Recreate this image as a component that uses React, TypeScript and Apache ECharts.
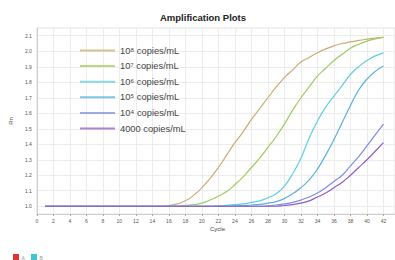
import React, { useEffect, useRef } from "react";
import * as echarts from "echarts";

const cycles = [1,2,3,4,5,6,7,8,9,10,11,12,13,14,15,16,17,18,19,20,21,22,23,24,25,26,27,28,29,30,31,32,33,34,35,36,37,38,39,40,41,42];

const seriesNames = ["10⁸ copies/mL", "10⁷ copies/mL", "10⁶ copies/mL", "10⁵ copies/mL", "10⁴ copies/mL", "4000 copies/mL"];
const seriesColors = ["#c9ac72", "#9fcc5e", "#5fcfdc", "#5aaee0", "#7f8ce0", "#8d5cc8"];

const rn1e8 = [1.0,1.0,1.0,1.0,1.0,1.0,1.0,1.0,1.0,1.0,1.0,1.0,1.0,1.0,1.0,1.005,1.015,1.035,1.07,1.12,1.18,1.25,1.33,1.41,1.48,1.56,1.63,1.70,1.77,1.83,1.88,1.93,1.96,1.99,2.015,2.035,2.05,2.06,2.07,2.078,2.085,2.09];
const rn1e7 = [1.0,1.0,1.0,1.0,1.0,1.0,1.0,1.0,1.0,1.0,1.0,1.0,1.0,1.0,1.0,1.0,1.0,1.005,1.01,1.02,1.04,1.065,1.095,1.14,1.19,1.25,1.31,1.38,1.45,1.53,1.62,1.70,1.77,1.84,1.89,1.94,1.98,2.02,2.045,2.065,2.08,2.09];
const rn1e6 = [1.0,1.0,1.0,1.0,1.0,1.0,1.0,1.0,1.0,1.0,1.0,1.0,1.0,1.0,1.0,1.0,1.0,1.0,1.0,1.0,1.0,1.003,1.006,1.01,1.015,1.025,1.035,1.055,1.08,1.13,1.21,1.31,1.44,1.55,1.64,1.71,1.78,1.85,1.90,1.94,1.97,1.99];
const rn1e5 = [1.0,1.0,1.0,1.0,1.0,1.0,1.0,1.0,1.0,1.0,1.0,1.0,1.0,1.0,1.0,1.0,1.0,1.0,1.0,1.0,1.0,1.0,1.0,1.002,1.005,1.008,1.012,1.02,1.03,1.05,1.08,1.12,1.17,1.24,1.33,1.43,1.54,1.65,1.75,1.82,1.87,1.905];
const rn1e4 = [1.0,1.0,1.0,1.0,1.0,1.0,1.0,1.0,1.0,1.0,1.0,1.0,1.0,1.0,1.0,1.0,1.0,1.0,1.0,1.0,1.0,1.0,1.0,1.0,1.0,1.0,1.0,1.003,1.008,1.015,1.025,1.04,1.06,1.085,1.12,1.16,1.20,1.26,1.32,1.39,1.46,1.53];
const rn4000 = [1.0,1.0,1.0,1.0,1.0,1.0,1.0,1.0,1.0,1.0,1.0,1.0,1.0,1.0,1.0,1.0,1.0,1.0,1.0,1.0,1.0,1.0,1.0,1.0,1.0,1.0,1.0,1.0,1.0,1.005,1.01,1.02,1.035,1.06,1.085,1.12,1.155,1.20,1.25,1.30,1.355,1.41];

const seriesValues = [rn1e8, rn1e7, rn1e6, rn1e5, rn1e4, rn4000];

const bottomKeys = ["A", "B"];
const bottomColors = ["#e03434", "#3fc6d0"];

export default function App() {
  const ref = useRef<HTMLDivElement>(null);
  useEffect(() => {
    if (!ref.current) return;
    const chart = echarts.init(ref.current, null, { renderer: "svg" });
    const font = "Liberation Sans, Arial, sans-serif";
    chart.setOption({
      animation: false,
      backgroundColor: "#ffffff",
      textStyle: { fontFamily: font },
      grid: { left: 33, right: 0, top: 28, height: 186, show: true, borderColor: "#e2e2e2", borderWidth: 1 },
      legend: {
        orient: "vertical",
        left: 75,
        top: 41,
        padding: 5,
        icon: "rect",
        itemWidth: 35,
        itemHeight: 2,
        itemGap: 6.6,
        data: seriesNames,
        itemStyle: { opacity: 0.75 },
        textStyle: { fontSize: 9.3, color: "#444", fontFamily: font },
      },
      xAxis: {
        type: "value",
        min: 0,
        max: 43.4,
        interval: 2,
        axisLine: { show: true, lineStyle: { color: "#cfcfcf" } },
        axisTick: { show: true, length: 2, lineStyle: { color: "#aaa" } },
        axisLabel: {
          fontSize: 5,
          color: "#555",
          margin: 4,
          showMaxLabel: false,
          formatter: (v: number) => (Math.abs(v - Math.round(v)) < 1e-6 && Math.round(v) % 2 === 0 ? String(Math.round(v)) : ""),
        },
        splitLine: { show: true, lineStyle: { color: "#ececec", width: 1 } },
      },
      yAxis: {
        type: "value",
        min: 0.95,
        max: 2.15,
        interval: 0.05,
        name: "Rn",
        nameLocation: "middle",
        nameGap: 19,
        nameTextStyle: { fontSize: 6, color: "#555" },
        axisLine: { show: true, lineStyle: { color: "#cfcfcf" } },
        axisTick: { show: false },
        axisLabel: {
          fontSize: 5,
          color: "#555",
          margin: 5,
          formatter: (v: number) => {
            const k = Math.round(v * 100);
            return k % 10 === 0 && k >= 100 && k <= 210 ? (k / 100).toFixed(1) : "";
          },
        },
        splitLine: { show: true, lineStyle: { color: ["rgba(0,0,0,0)", "#ececec"], width: 1 } },
      },
      series: seriesNames.map((name, i) => ({
        name,
        type: "line",
        showSymbol: false,
        symbol: "none",
        smooth: true,
        data: cycles.map((c, j) => [c, seriesValues[i][j]]),
        lineStyle: { color: seriesColors[i], width: 1.2 },
        itemStyle: { color: seriesColors[i] },
      })),
      graphic: [
        {
          type: "text",
          left: 160,
          top: 12,
          style: { text: "Amplification Plots", font: "bold 9.5px " + font, fill: "#222" },
        },
        {
          type: "text",
          left: 210,
          top: 226,
          style: { text: "Cycle", font: "6px " + font, fill: "#444" },
        },
        ...bottomKeys.flatMap((k, i) => [
          { type: "rect", shape: { x: 13 + i * 18, y: 254, width: 6, height: 6 }, style: { fill: bottomColors[i] } },
          { type: "text", left: 21.5 + i * 18, top: 255, style: { text: k, font: "5px " + font, fill: "#999" } },
        ]),
      ],
    });
    return () => chart.dispose();
  }, []);
  return <div ref={ref} style={{ position: "fixed", left: 0, top: 0, width: 395, height: 260 }} />;
}
